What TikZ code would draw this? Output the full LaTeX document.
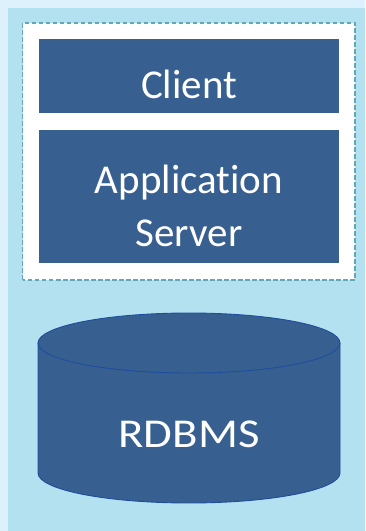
\documentclass[tikz,border=0pt]{standalone}
\usepackage{fontspec}
\setmainfont{Carlito}[Ligatures={NoCommon,NoDiscretionary,NoContextual}]
\definecolor{bandlight}{HTML}{DDF1FC}
\definecolor{bgblue}{HTML}{B4E1F0}
\definecolor{boxblue}{HTML}{375F8F}
\definecolor{dashteal}{HTML}{62A8B8}
\definecolor{cyledge}{HTML}{1F4E9F}
\tikzset{
  tierbox/.style={fill=boxblue, draw=none, minimum width=300pt, inner sep=0pt},
  boxlabel/.style={text=white, inner sep=0pt, anchor=base, font=\fontsize{41}{50}\selectfont},
  groupframe/.style={fill=white, draw=dashteal, line width=1.3pt, dash pattern=on 4.5pt off 2.5pt},
}
\begin{document}
\begin{tikzpicture}[x=1pt,y=1pt]
\useasboundingbox (0,0) rectangle (365,531);
\fill[bandlight] (0,0) rectangle (365,531);
\fill[bgblue] (8,0) rectangle (365,523);
\draw[groupframe] (22.5,251) rectangle (355,508);
\node[tierbox, minimum height=74pt] (client) at (189,455) {};
\node[boxlabel] (clienttext) at ([yshift=15pt]client.south) {Client};
\node[tierbox, minimum height=133pt] (app) at (189,334.5) {};
\node[boxlabel] (apptext1) at ([yshift=70pt]app.south) {Application};
\node[boxlabel] (apptext2) at ([yshift=17pt]app.south) {Server};
% cylinder
\filldraw[fill=boxblue, draw=cyledge, line width=0.9pt]
  (38,188) -- (38,58) arc (180:360:151 and 30) -- (340,188) arc (0:180:151 and 30) -- cycle;
\draw[cyledge, line width=0.9pt] (38,188) arc (180:360:151 and 30);
\coordinate (dbbase) at (189,83);
\node[boxlabel] (db) at (dbbase) {\scalebox{1.14}[1]{RDBMS}};
\end{tikzpicture}
\end{document}
